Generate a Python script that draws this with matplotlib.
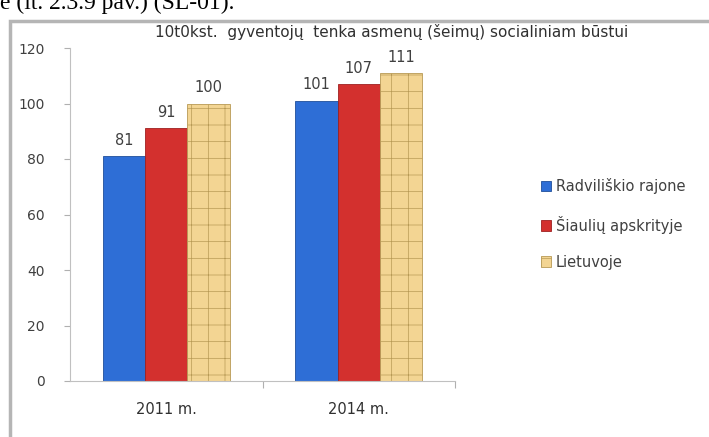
import matplotlib
matplotlib.use("Agg")
import matplotlib.pyplot as plt
import numpy as np
from matplotlib.patches import Rectangle

categories = ["2011 m.", "2014 m."]
series_names = ["Radviliškio rajone", "Šiaulių apskrityje", "Lietuvoje"]
radviliskio = [81, 101]
siauliu = [91, 107]
lietuvoje = [100, 111]
yticks = [0, 20, 40, 60, 80, 100, 120]
title = "10t0kst.  gyventojų  tenka asmenų (šeimų) socialiniam būstui"

colors = ["#2E6ED6", "#D3302E", "#F3D593"]
edges = ["#1F4E9A", "#9E2020", "#B89A55"]
matplotlib.rcParams["hatch.color"] = "#E6C886"
matplotlib.rcParams["hatch.linewidth"] = 0.5

fig = plt.figure(figsize=(7.09, 4.37), dpi=100)
fig.patch.set_facecolor("white")

# frame around chart
fig.patches.append(Rectangle((10/709, -0.05), 705/709, 1.05 - 21/437, transform=fig.transFigure,
                             fill=False, edgecolor="#b5b5b5", linewidth=2.5, zorder=0))
# clipped document text at top
fig.text(0.0, 1 - 1/437, "e (lt. 2.3.9 pav.) (ŠL-01).", fontsize=17, family="Liberation Serif",
         va="center", ha="left", color="black")

ax = fig.add_axes([70/709, 1 - 381/437, (455 - 70)/709, (381 - 48)/437])
x = np.arange(len(categories))
w = 0.22
data = [radviliskio, siauliu, lietuvoje]
for i, (vals, name) in enumerate(zip(data, series_names)):
    pos = x + (i - 1) * w
    bars = ax.bar(pos, vals, width=w, color=colors[i], edgecolor=edges[i], linewidth=0.6,
                  label=name, hatch="+" if i == 2 else None, zorder=2)
    if i == 2:
        for b in bars:
            try:
                b.set_hatchcolor("#E6C886")
            except Exception:
                pass
    for p, v in zip(pos, vals):
        ax.text(p, v + 3, str(v), ha="center", va="bottom", fontsize=10.5, color="#404040")

ax.set_xlim(-0.5, 1.5)
ax.set_ylim(0, 120)
ax.set_yticks(yticks)
ax.set_yticklabels([str(t) for t in yticks], fontsize=10, color="#404040")
ax.set_xticks([0.5, 1.5], minor=False)
ax.set_xticklabels(["", ""])
ax.set_xticks(x, minor=True)
ax.set_xticklabels(categories, minor=True, fontsize=10.5, color="#303030")
ax.tick_params(axis="x", which="minor", length=0, pad=15)
ax.tick_params(axis="x", which="major", length=5, color="#b0b0b0", direction="out")
ax.tick_params(axis="y", length=4, color="#b0b0b0", direction="out", pad=14)
for s in ["top", "right"]:
    ax.spines[s].set_visible(False)
ax.spines["left"].set_color("#c0c0c0")
ax.spines["bottom"].set_color("#c0c0c0")

ax.set_title(title, fontsize=11, color="#303030", x=(392 - 70)/(455 - 70), y=1.0, pad=8,
             ha="center")

fig.legend(loc="center left", bbox_to_anchor=(528/709, 1 - 224/437), frameon=False,
           fontsize=10.5, handlelength=0.7, handleheight=0.7, handletextpad=0.3,
           labelspacing=1.45, labelcolor="#404040")

fig.savefig("out.png", dpi=100)
